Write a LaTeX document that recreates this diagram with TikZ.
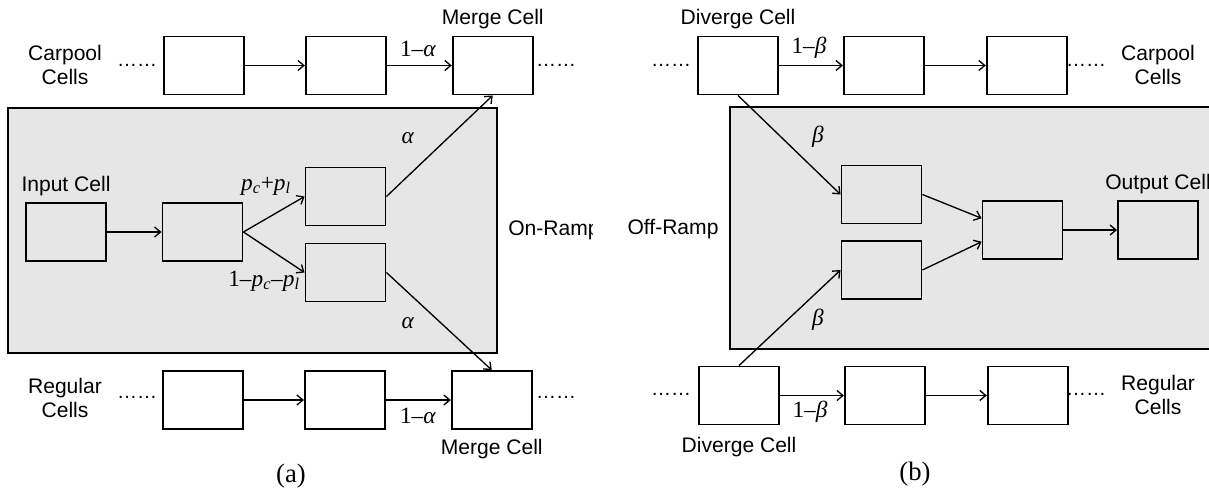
\documentclass[tikz,border=0pt]{standalone}
\usepackage{fontspec}
\setmainfont{Liberation Sans}
\newfontfamily\timesfont{Liberation Serif}
\usetikzlibrary{arrows.meta,positioning}
\definecolor{rampgray}{HTML}{E6E6E6}
\newcommand{\pc}{\textit{p}\textsubscript{\textit{c}}}
\newcommand{\pl}{\textit{p}\textsubscript{\textit{l}}}

\begin{document}
\begin{tikzpicture}[x=0.75pt,y=-0.75pt,
 cell/.style={draw,line width=1.4pt,minimum width=60pt,minimum height=43.5pt,inner sep=0pt},
 lane/.style={cell,fill=white},
 ramp/.style={draw,line width=1pt,fill=rampgray},
 txt/.style={inner sep=0pt,font=\fontsize{15.8}{18.5}\selectfont,align=center},
 gap/.style={inner sep=0pt,font=\fontsize{15}{16}\selectfont},
 num/.style={inner sep=0pt,font=\fontsize{17.5}{20}\timesfont},
 subcap/.style={inner sep=0pt,font=\fontsize{20}{24}\timesfont},
 arr/.style={-{Straight Barb[length=4.5pt,width=7.5pt]},line width=1pt},
 node distance=45pt]
 \useasboundingbox[fill=white] (0,0) rectangle (1209,500);
 % (a) on-ramp
 \draw[ramp] (8,108) rectangle (497,353);
 \node[lane] (ca1) at (204,65.5) {};
 \node[lane,right=of ca1] (ca2) {};
 \node[lane,right=48.75pt of ca2] (cam) {};
 \node[lane] (ra1) at (203,400) {};
 \node[lane,right=of ra1] (ra2) {};
 \node[lane,right=48.75pt of ra2] (ram) {};
 \node[cell] (in) at (66,232) {};
 \node[cell] (mid) at (202.5,232) {};
 \node[cell] (up) at (345.5,196.5) {};
 \node[cell] (lo) at (345.5,272.5) {};
 \node[txt] (carpoolA) at (65,65) {Carpool\\Cells};
 \node[txt] (regularA) at (65,398) {Regular\\Cells};
 \node[gap] (dotsA1) at (137,65) {……};
 \node[gap] (dotsA2) at (556,65) {……};
 \node[gap] (dotsA3) at (137,397) {……};
 \node[gap] (dotsA4) at (556,397) {……};
 \node[txt,above=4.5pt of cam] (mergetop) {Merge Cell};
 \node[txt,below=7pt of ram] (mergebot) {Merge Cell};
 \node[txt,above=4.5pt of in] (input) {Input Cell};
 \begin{scope}
  \clip (497,108) rectangle (592,353);
  \node[txt,anchor=west] (onramp) at (508,230) {On-Ramp};
 \end{scope}
 \draw[arr] (ca1) -- (ca2);
 \draw[arr] (ca2) -- (cam);
 \draw[arr] (ra1) -- (ra2);
 \draw[arr] (ra2) -- (ram);
 \draw[arr] (in) -- (mid);
 \draw[arr] (mid.east) -- (up.west);
 \draw[arr] (mid.east) -- (lo.west);
 \draw[arr] (up.east) -- (cam.south);
 \draw[arr] (lo.east) -- (ram.north);
 \node[num] (oneAtop) at (418,49) {1–\textit{α}};
 \node[num] (oneAbot) at (418,416) {1–\textit{α}};
 \node[num] (alphaup) at (408,138) {\textit{α}};
 \node[num] (alphalo) at (408,323) {\textit{α}};
 \node[num] (pup) at (266,186) {\pc+\pl};
 \node[num] (plo) at (264,281) {1–\pc–\pl};
 \node[subcap] (capA) at (291,476) {(a)};
 % (b) off-ramp
 \draw[ramp] (730,107) rectangle (1215,349);
 \node[lane] (dc) at (738,65.5) {};
 \node[lane,right=48pt of dc] (cb2) {};
 \node[lane,right=45.75pt of cb2] (cb3) {};
 \node[lane] (dr) at (739,395.5) {};
 \node[lane,right=48pt of dr] (rb2) {};
 \node[lane,right=45.75pt of rb2] (rb3) {};
 \node[cell] (ub) at (881.5,194.5) {};
 \node[cell] (lb) at (881.5,270) {};
 \node[cell] (mb) at (1022.5,230) {};
 \node[cell] (ob) at (1158,230) {};
 \node[txt] (carpoolB) at (1158,65) {Carpool\\Cells};
 \node[txt] (regularB) at (1158,395) {Regular\\Cells};
 \node[gap] (dotsB1) at (671,65) {……};
 \node[gap] (dotsB2) at (1086,65) {……};
 \node[gap] (dotsB3) at (671,394) {……};
 \node[gap] (dotsB4) at (1086,394) {……};
 \node[txt,above=4.5pt of dc] (divtop) {Diverge Cell};
 \node[txt,below=8.5pt of dr] (divbot) {Diverge Cell};
 \node[txt,above=4.2pt of ob] (output) {Output Cell};
 \node[txt] (offramp) at (673,229.5) {Off-Ramp};
 \draw[arr] (dc) -- (cb2);
 \draw[arr] (cb2) -- (cb3);
 \draw[arr] (dr) -- (rb2);
 \draw[arr] (rb2) -- (rb3);
 \draw[arr] (dc.south) -- (ub.west);
 \draw[arr] (dr.north) -- (lb.west);
 \draw[arr] (ub.east) -- (mb.164);
 \draw[arr] (lb.east) -- (mb.196);
 \draw[arr] (mb) -- (ob);
 \node[num] (oneBtop) at (809,48) {1–\textit{β}};
 \node[num] (oneBbot) at (810,412) {1–\textit{β}};
 \node[num] (betaup) at (818,137) {\textit{β}};
 \node[num] (betalo) at (818,320) {\textit{β}};
 \node[subcap] (capB) at (915,474) {(b)};
\end{tikzpicture}
\end{document}
